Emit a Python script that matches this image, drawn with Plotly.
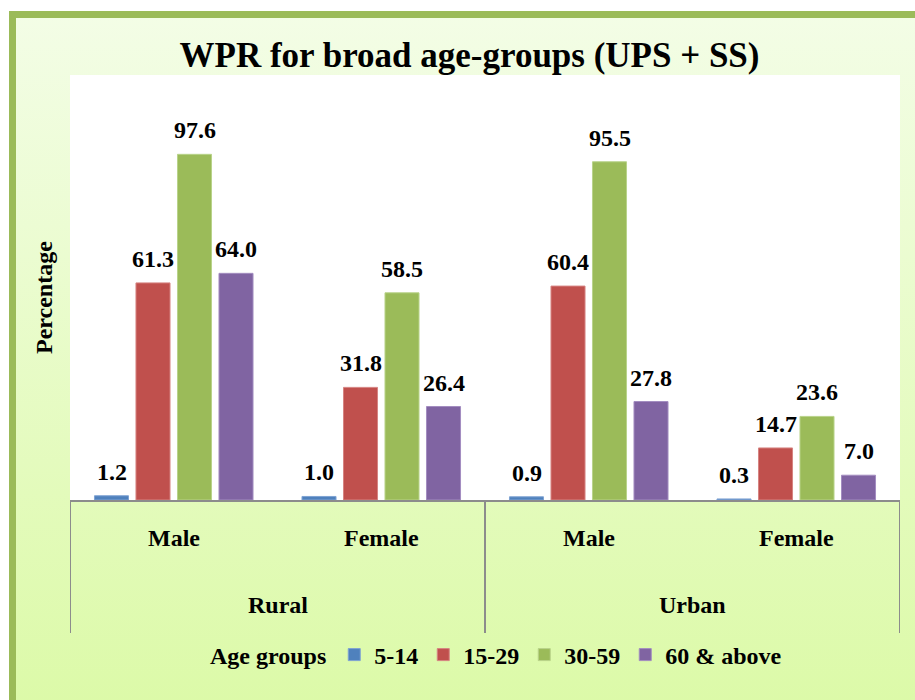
import base64
import plotly.graph_objects as go

# ---- data ----
sectors = ["Rural", "Rural", "Urban", "Urban"]
genders = ["Male", "Female", "Male", "Female"]
age_groups = ["5-14", "15-29", "30-59", "60 & above"]
v_5_14 = [1.2, 1.0, 0.9, 0.3]
v_15_29 = [61.3, 31.8, 60.4, 14.7]
v_30_59 = [97.6, 58.5, 95.5, 23.6]
v_60_above = [64.0, 26.4, 27.8, 7.0]
series = [v_5_14, v_15_29, v_30_59, v_60_above]
colors = ["#4F81BD", "#C0504D", "#9BBB59", "#8064A2"]
edge_colors = ["#7FA3D3", "#D68482", "#B9D38A", "#A38DC0"]

W, H = 915, 700
ML, MR, MT, MB = 70, 15, 75, 200
PW, PH = W - ML - MR, H - MT - MB
BARGAP = 0.2

def px_x(p):
    return (p - ML) / PW

def px_y(p):
    return (H - MB - p) / PH

FONT = "Liberation Serif"
LBL = dict(family=FONT, size=24, color="black", weight="bold")

cats = [f"{s} {g}" for s, g in zip(sectors, genders)]

fig = go.Figure()
for name, vals, c, ec in zip(age_groups, series, colors, edge_colors):
    fig.add_trace(go.Bar(
        name=name, x=cats, y=vals,
        marker=dict(color=c, line=dict(color=ec, width=1)),
        hoverinfo="x+y+name",
    ))

# gradient background via svg image
svg = ('<svg xmlns="http://www.w3.org/2000/svg" width="100" height="100" viewBox="0 0 100 100" '
       'preserveAspectRatio="none"><defs><linearGradient id="g" x1="0" y1="0" x2="0" y2="1">'
       '<stop offset="0" stop-color="#F3FDE6"/><stop offset="1" stop-color="#DCFAA8"/>'
       '</linearGradient></defs><rect x="0" y="0" width="100" height="100" fill="url(#g)"/></svg>')
src = "data:image/svg+xml;base64," + base64.b64encode(svg.encode()).decode()

fx0, fy0, fx1, fy1 = 12.5, 14.5, 930, 705
images = [dict(source=src, xref="paper", yref="paper",
               x=px_x(fx0), y=px_y(fy0), sizex=px_x(fx1) - px_x(fx0), sizey=px_y(fy0) - px_y(fy1),
               xanchor="left", yanchor="top", sizing="stretch", layer="below")]

shapes = [
    dict(type="rect", xref="paper", yref="paper", x0=0, x1=1, y0=0, y1=1,
         line=dict(width=0), fillcolor="white", layer="below"),
    dict(type="rect", xref="paper", yref="paper",
         x0=px_x(fx0), x1=px_x(fx1), y0=px_y(fy1), y1=px_y(fy0),
         line=dict(color="#9BBB59", width=7), fillcolor="rgba(0,0,0,0)", layer="below"),
]
# category dividers
for xv in [-0.5, 1.5, 3.5]:
    shapes.append(dict(type="line", xref="x", yref="paper", x0=xv, x1=xv,
                       y0=0, y1=px_y(633), line=dict(color="#8C8C8C", width=2)))

annotations = []
# data labels above each bar
slot_px = PW / len(cats) * (1 - BARGAP) / len(series)
for i, vals in enumerate(series):
    for c, v in zip(cats, vals):
        annotations.append(dict(x=c, xref="x", y=v, yref="y", text=f"{v:.1f}", showarrow=False,
                                xanchor="center", yanchor="bottom",
                                xshift=(i - (len(series) - 1) / 2) * slot_px, yshift=9, font=LBL))
for c, g in zip(cats, genders):
    annotations.append(dict(x=c, xref="x", y=px_y(538), yref="paper", text=g, showarrow=False,
                            yanchor="middle", font=LBL))
for i, s in enumerate(["Rural", "Urban"]):
    annotations.append(dict(x=0.5 + 2 * i, xref="x", y=px_y(605), yref="paper", text=s, showarrow=False,
                            yanchor="middle", font=LBL))
annotations.append(dict(x=px_x(44), xref="paper", y=px_y(298), yref="paper", text="Percentage",
                        textangle=-90, showarrow=False, xanchor="center", yanchor="middle", font=LBL))

fig.update_layout(
    width=W, height=H,
    margin=dict(l=ML, r=MR, t=MT, b=MB),
    paper_bgcolor="white", plot_bgcolor="white",
    font=dict(family=FONT),
    barmode="group", bargap=BARGAP, bargroupgap=0.18,
    title=dict(text="WPR for broad age-groups (UPS + SS)", x=469.5 / W, xanchor="center",
               y=1 - 55 / H, yanchor="middle", yref="container",
               font=dict(family=FONT, size=35, color="black", weight="bold")),
    xaxis=dict(showticklabels=False, showline=True, linecolor="#8C8C8C", linewidth=2,
               ticks="", showgrid=False, zeroline=False, range=[-0.5, 3.5]),
    yaxis=dict(range=[0, 120], showticklabels=False, showgrid=False, zeroline=False,
               showline=False, ticks=""),
    legend=dict(orientation="h", x=px_x(208), xanchor="left", y=px_y(655), yanchor="middle",
                bgcolor="rgba(0,0,0,0)", itemwidth=30,
                title=dict(text="Age groups", side="left", font=LBL),
                font=LBL),
    images=images, shapes=shapes, annotations=annotations,
    showlegend=True,
)

fig.write_html("out.html", config={"displayModeBar": False},
               post_script="document.body.style.margin='0';")
